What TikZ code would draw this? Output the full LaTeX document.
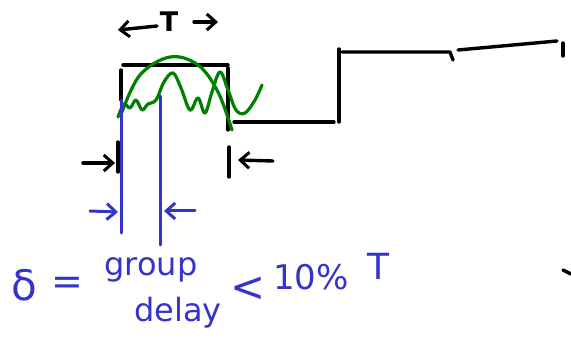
\documentclass[tikz,border=0pt]{standalone}
\usepackage{fontspec}
\setmainfont{DejaVu Sans}
\usepackage{xcolor}
\usetikzlibrary{arrows.meta, calc}
\definecolor{inkblue}{RGB}{52,52,200}
\definecolor{inkgreen}{RGB}{0,128,0}

\begin{document}
\begin{tikzpicture}[
    x=1pt, y=-1pt,
    pen/.style={line width=3.4pt, line cap=round, line join=round, draw=black},
    bluepen/.style={line width=3pt, line cap=round, line join=round, draw=inkblue},
    greenpen/.style={line width=3.2pt, line cap=round, line join=round, draw=inkgreen},
    barb/.style={-{Straight Barb[length=9pt, width=16pt, line width=3pt]}},
    label/.style={inner sep=0pt, text=inkblue, font=\fontsize{32}{34}\selectfont}
]
    \useasboundingbox (0,0) rectangle (571,350);

    % Pulse and step waveform
    \draw[pen] (121,70) -- (121,100);
    \draw[pen] (123,65) -- (228,65);
    \draw[pen] (228,68) -- (228,130);
    \draw[pen] (234,122) -- (334,122);
    \draw[pen] (339,49) -- (339,122);
    \draw[pen] (342,52) -- (450,52) -- (453,60);
    \draw[pen] (458,50) -- (557,41);
    \draw[pen] (563,43) -- (563,56);
    \draw[pen] (563,270) -- (571,274);

    % Period T
    \node[inner sep=0pt, font=\bfseries\fontsize{27}{29}\selectfont] (period) at (169,22) {T};
    \coordinate (tl1) at (157,26);
    \coordinate (tl2) at (118,30);
    \coordinate (tr1) at (194,22);
    \coordinate (tr2) at (218,22);
    \draw[pen, barb] (tl1) -- (tl2);
    \draw[pen, barb] (tr1) -- (tr2);

    % Pulse width markers
    \coordinate (bl1) at (118,142);
    \coordinate (bl2) at (118,172);
    \coordinate (br1) at (229,147);
    \coordinate (br2) at (229,177);
    \draw[pen] (bl1) -- (bl2);
    \draw[pen] (br1) -- (br2);
    \coordinate (al1) at (83,163);
    \coordinate (al2) at (115,163);
    \coordinate (ar1) at (273,161);
    \coordinate (ar2) at (238,160);
    \draw[pen, barb] (al1) -- (al2);
    \draw[pen, barb] (ar1) -- (ar2);

    % Response
    \draw[greenpen] plot[smooth, tension=0.6] coordinates {
        (122,112) (140,75) (170,57) (198,65) (218,92) (232,130)};
    \draw[greenpen] plot[smooth, tension=0.6] coordinates {
        (118,117) (124,104) (130,108) (136,100) (142,110) (148,104)
        (156,100) (164,82) (173,73) (181,88) (190,110) (198,98)
        (205,113) (212,92) (220,72) (228,90) (236,110) (245,113)
        (255,100) (262,85)};

    % Delay markers
    \coordinate (d1top) at (121,100);
    \coordinate (d1bot) at (121,233);
    \coordinate (d2top) at (160,96);
    \coordinate (d2bot) at (160,245);
    \draw[bluepen] (d1top) -- (d1bot);
    \draw[bluepen] (d2top) -- (d2bot);
    \coordinate (bl3) at (90,211);
    \coordinate (bl4) at (118,212);
    \coordinate (br3) at (195,211);
    \coordinate (br4) at (164,211);
    \draw[bluepen, barb, inkblue] (bl3) -- (bl4);
    \draw[bluepen, barb, inkblue] (br3) -- (br4);

    % Annotation
    \node[label, font=\fontsize{42}{44}\selectfont] (delta) at (24,285) {δ};
    \node[label, font=\fontsize{38}{40}\selectfont] (equals) at (67,286) {=};
    \node[label] (group) at (151,270) {group};
    \node[label] (delay) at (178,313) {delay};
    \node[label, font=\fontsize{42}{44}\selectfont] (less) at (248,289) {<};
    \node[label, font=\fontsize{34}{36}\selectfont] (percent) at (311,277) {10\%};
    \node[label, font=\fontsize{36}{38}\selectfont] (tee) at (378,266) {T};
\end{tikzpicture}
\end{document}
